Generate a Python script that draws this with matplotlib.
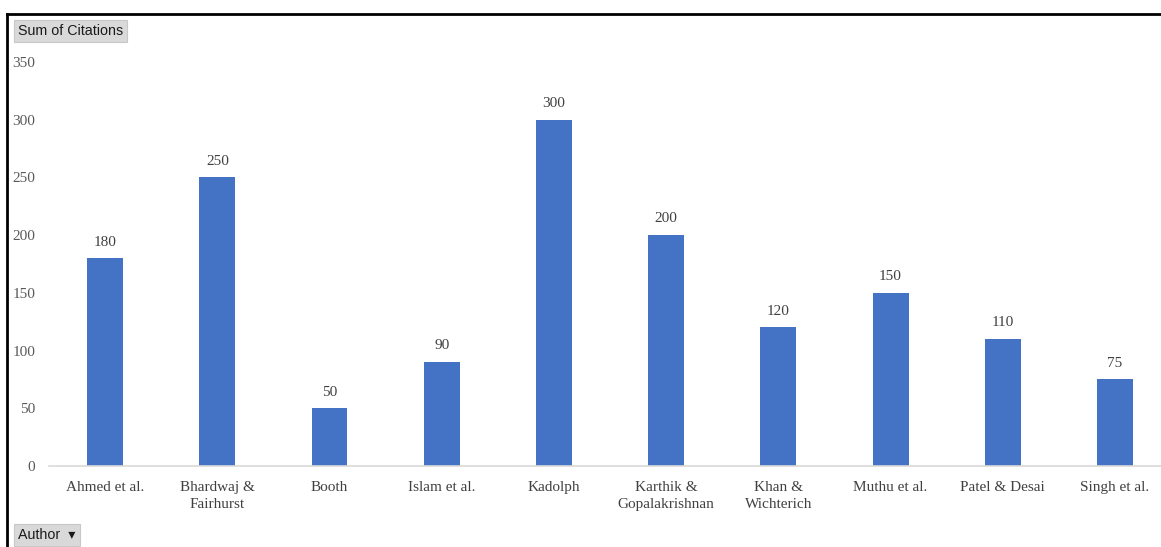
import matplotlib
matplotlib.use("Agg")
import matplotlib.pyplot as plt
from matplotlib.lines import Line2D

authors = ["Ahmed et al.", "Bhardwaj &\nFairhurst", "Booth", "Islam et al.", "Kadolph",
           "Karthik &\nGopalakrishnan", "Khan &\nWichterich", "Muthu et al.", "Patel & Desai",
           "Singh et al."]
citations = [180, 250, 50, 90, 300, 200, 120, 150, 110, 75]
yticks = [0, 50, 100, 150, 200, 250, 300, 350]

W, H = 1161, 547
fig = plt.figure(figsize=(W / 100, H / 100), dpi=100)
ax = fig.add_axes([49 / W, 81 / H, 1112 / W, 404 / H])

x = list(range(len(authors)))
bars = ax.bar(x, citations, width=0.32, color="#4472C4", zorder=2)
ax.set_xlim(-0.5, 9.41)
ax.set_ylim(0, 350)
ax.set_yticks(yticks)
ax.set_yticklabels([str(v) for v in yticks], family="Liberation Serif", fontsize=11, color="#595959")
ax.set_xticks(x)
ax.set_xticklabels(authors, family="Liberation Serif", fontsize=11, color="#404040", linespacing=1.35)
ax.tick_params(axis="y", length=0, pad=10)
ax.tick_params(axis="x", length=0, pad=11)
for s in ["top", "right", "left"]:
    ax.spines[s].set_visible(False)
ax.spines["bottom"].set_color("#d9d9d9")
ax.spines["bottom"].set_linewidth(1.2)

for xi, v in zip(x, citations):
    ax.annotate(str(v), (xi, v), xytext=(0, 7), textcoords="offset points",
                ha="center", va="bottom", family="Liberation Serif", fontsize=11, color="#404040")

# frame lines
fig.add_artist(Line2D([7 / W, 1.0], [1 - 14 / H, 1 - 14 / H], color="black", lw=2))
fig.add_artist(Line2D([7 / W, 7 / W], [0, 1 - 14 / H], color="black", lw=2))

btn = dict(boxstyle="square,pad=0.3", facecolor="#d9d9d9", edgecolor="#c8c8c8", lw=0.8)
fig.text(18 / W, 1 - 31 / H, "Sum of Citations", fontsize=10.3, family="Liberation Sans",
         va="center", ha="left", color="#1a1a1a", bbox=btn)
fig.text(18 / W, 1 - 535 / H, "Author  \u25BE", fontsize=10.3,
         family=["Liberation Sans", "DejaVu Sans"],
         va="center", ha="left", color="#1a1a1a", bbox=btn)

fig.savefig("out.png", dpi=100, facecolor="white")
